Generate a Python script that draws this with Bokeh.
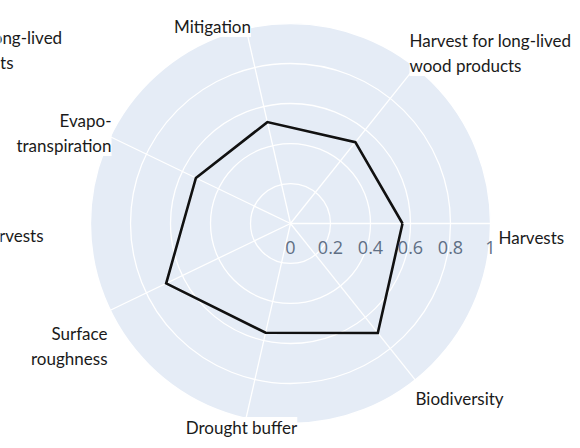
import numpy as np
from bokeh.plotting import figure
from bokeh.models import Range1d, ColumnDataSource
from bokeh.embed import file_html
from bokeh.resources import INLINE
from bokeh.core.properties import value

# ---------------- data ----------------
categories = ["Harvests", "Harvest for long-lived wood products", "Mitigation",
              "Evapo-transpiration", "Surface roughness", "Drought buffer", "Biodiversity"]
scores = [0.56, 0.52, 0.52, 0.525, 0.69, 0.56, 0.70]
radial_ticks = [0, 0.2, 0.4, 0.6, 0.8, 1.0]
radial_tick_labels = ["0", "0.2", "0.4", "0.6", "0.8", "1"]
label_lines = {
    "Harvests": ["Harvests"],
    "Harvest for long-lived wood products": ["Harvest for long-lived", "wood products"],
    "Mitigation": ["Mitigation"],
    "Evapo-transpiration": ["Evapo-", "transpiration"],
    "Surface roughness": ["Surface", "roughness"],
    "Drought buffer": ["Drought buffer"],
    "Biodiversity": ["Biodiversity"],
}

# ---------------- layout (pixels) ----------------
PX = 200.0             # pixels per unit radius
CX, CY = 290.0, 223.0  # polar centre within the figure
W, H = 572, 440        # figure size (page margin 8px)
LINE_GAP = 25          # px between label lines
# first-line anchor (x, baseline y, align) per category, in figure pixels
label_pos = {
    "Harvests": (498, 237, "left"),
    "Harvest for long-lived wood products": (409, 40, "left"),
    "Mitigation": (212, 26, "center"),
    "Evapo-transpiration": (111, 120, "right"),
    "Surface roughness": (107, 333, "right"),
    "Drought buffer": (241, 427, "center"),
    "Biodiversity": (415, 398, "left"),
}
# fragments of a neighbouring chart, cut by the left edge
stray = [("Harvest for long-lived", 62, 37, "right"),
         ("wood products", 13, 62, "right"),
         ("Harvests", 43, 235, "right")]


def dx(px):
    return (px - CX) / PX


def dy(py):
    return (CY - py) / PX


p = figure(width=W, height=H,
           x_range=Range1d(-CX / PX, (W - CX) / PX),
           y_range=Range1d((CY - H) / PX, CY / PX),
           output_backend="svg", toolbar_location=None, min_border=0,
           background_fill_color="white", border_fill_color="white")
p.axis.visible = False
p.grid.visible = False
p.outline_line_color = None

n = len(categories)
theta = np.arange(n) * 2 * np.pi / n

# polar background
p.circle(x=[0], y=[0], radius=radial_ticks[-1], fill_color="#E5ECF6", line_color="white",
         line_width=1.3)
# rings
p.circle(x=[0] * (len(radial_ticks) - 2), y=[0] * (len(radial_ticks) - 2),
         radius=radial_ticks[1:-1], fill_color=None, line_color="white", line_width=1.3)
# spokes
rmax = radial_ticks[-1]
p.segment(x0=[0] * n, y0=[0] * n, x1=list(rmax * np.cos(theta)), y1=list(rmax * np.sin(theta)),
          line_color="white", line_width=1.3)

# radar polygon
r = np.array(scores + scores[:1])
th = np.append(theta, theta[0])
p.line(x=r * np.cos(th), y=r * np.sin(th), line_color="#111111", line_width=2.6,
       line_join="miter")

# radial tick labels
p.text(x=radial_ticks, y=[0] * len(radial_ticks), text=radial_tick_labels,
       y_offset=24, text_align="center", text_baseline="alphabetic",
       text_font=value("Open Sans"), text_font_size="18px", text_color="#5f6f84")

# category labels
lx, ly, lt, la = [], [], [], []
for c in categories:
    px_, py_, al = label_pos[c]
    for i, line in enumerate(label_lines[c]):
        lx.append(dx(px_))
        ly.append(dy(py_ + i * LINE_GAP))
        lt.append(line)
        la.append(al)
for t, px_, py_, al in stray:
    lx.append(dx(px_))
    ly.append(dy(py_))
    lt.append(t)
    la.append(al)

src = ColumnDataSource(dict(x=lx, y=ly, text=lt, align=la))
p.text(x="x", y="y", text="text", text_align="align", source=src,
       text_baseline="alphabetic", text_font=value("Lato"), text_font_size="17px",
       text_color="#1a1a1a", background_fill_color="white")

open("out.html", "w").write(file_html(p, INLINE))
